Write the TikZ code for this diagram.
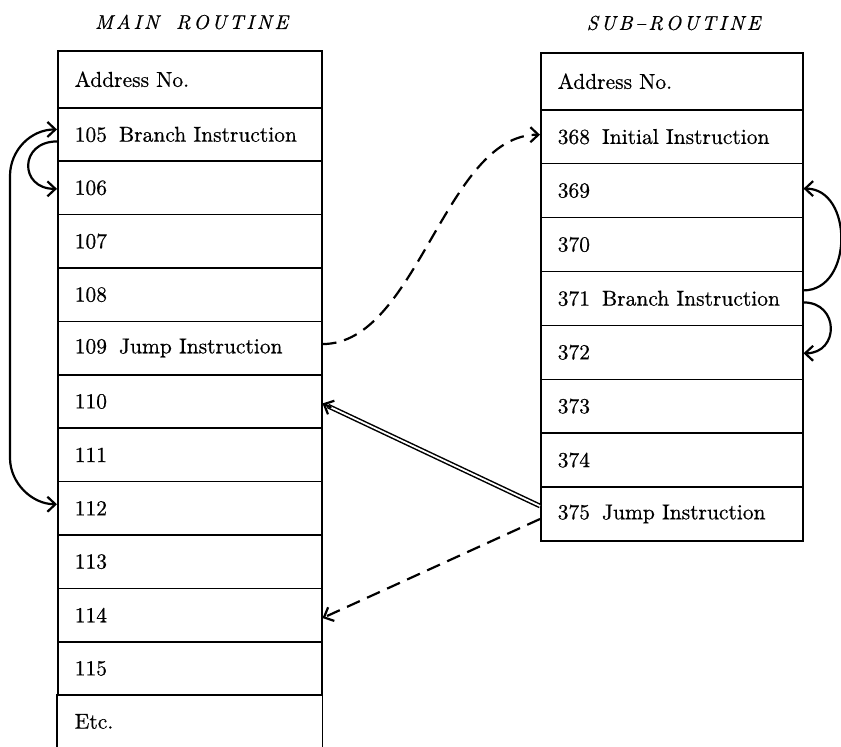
\documentclass[tikz,border=0pt]{standalone}
\usepackage{fontspec}
\setmainfont{lmroman10-regular}[Extension=.otf, ItalicFont=lmroman10-italic, FakeBold=0.6]
\usetikzlibrary{arrows.meta,calc}
\newcommand{\lsp}[1]{#1\kern2.8pt}
\newcommand{\gap}{\hspace{12pt}}
\tikzset{barb/.tip={Straight Barb[length=8pt,width=15pt]}}
\begin{document}
\begin{tikzpicture}[x=1pt,y=-1pt,
  cell/.style={draw, line width=1.5pt, minimum height=53.4pt, anchor=north west,
    inner xsep=17pt, inner ysep=0pt, text width=230pt, align=left,
    font=\fontsize{21.5}{25}\selectfont},
  scell/.style={cell, minimum height=53.9pt, text width=228pt},
  title/.style={font=\fontsize{20}{24}\selectfont\itshape, inner sep=0pt},
  arr/.style={line width=2.2pt, line cap=round},
  dash line/.style={arr, line cap=butt, dash pattern=on 14pt off 8pt},
]
\useasboundingbox (0,0) rectangle (841,747);
% titles
\node[title] (tm) at (193,22) {\lsp M\lsp A\lsp I\lsp N\ \ \lsp R\lsp O\lsp U\lsp T\lsp I\lsp N\lsp E};
\node[title] (ts) at (675,23) {\lsp S\lsp U\lsp B\lsp{--}\lsp R\lsp O\lsp U\lsp T\lsp I\lsp N\lsp E};
% main routine
\node[cell, minimum height=57pt] (m0) at (57,50) {Address No.};
\foreach \t [count=\i] in {105\gap Branch Instruction,106,107,108,109\gap Jump Instruction,110,111,112,113,114,115}{
  \node[cell] (m\i) at (57,{107+(\i-1)*53.4}) {\t};
}
\node[cell, draw=none, minimum height=52.6pt] (m12) at (57,694.4) {Etc.};
\draw[line width=1.5pt] (m12.south west) -- (m12.north west) -- (m12.north east) -- (m12.south east);
% sub-routine
\node[scell, minimum height=57pt] (s0) at (540,52) {Address No.};
\foreach \t [count=\i] in {368\gap Initial Instruction,369,370,371\gap Branch Instruction,372,373,374,375\gap Jump Instruction}{
  \node[scell] (s\i) at (540,{109+(\i-1)*53.9}) {\t};
}
% left loops
\coordinate (la) at (10,176);
\coordinate (lb) at (10,458);
\draw[arr, barb-barb] ([yshift=5pt]m1.west) .. controls +(-26,0) and +(0,-26) .. (la) -- (lb) .. controls +(0,25) and +(-25,0) .. ([yshift=4pt]m8.west);
\draw[arr, -barb] ([yshift=-7pt]m1.west) .. controls +(-38,0) and +(-38,0) .. ([yshift=-1pt]m2.west);
% right loops
\draw[arr, -barb] ([yshift=8pt]s4.east) .. controls +(50,0) and +(50,0) .. ([yshift=2pt]s2.east);
\draw[arr, -barb] ([yshift=-4pt]s4.east) .. controls +(36,0) and +(36,0) .. ([yshift=-1pt]s5.east);
% jump to subroutine
\draw[dash line, -barb] ([yshift=4pt]m5.east) .. controls +(95,0) and +(-95,0) .. ([yshift=2pt]s1.west);
% return
\coordinate (ra) at ([yshift=8pt]s8.west);
\coordinate (rb) at ([yshift=-2pt]m6.east);
\draw[line width=1.5pt, double, double distance=1.8pt, shorten >=6pt] (ra) -- (rb);
\draw[arr, -barb] ($(rb)!9pt!(ra)$) -- (rb);
\draw[dash line, -barb] ([yshift=-5pt]s8.west) -- ([yshift=-3pt]m10.east);
\end{tikzpicture}
\end{document}
